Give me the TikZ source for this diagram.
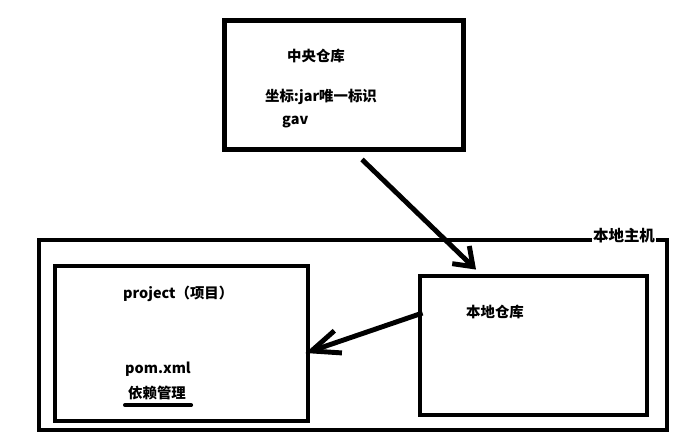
\documentclass[tikz,border=0pt]{standalone}
\usepackage{fontspec}
\setmainfont{Noto Sans CJK SC}
\usetikzlibrary{arrows.meta,calc}

\tikzset{
  box/.style={draw, line width=4.2pt, inner sep=0pt},
  txt/.style={font=\bfseries\fontsize{12.3}{14}\selectfont, inner sep=0pt},
  link/.style={line width=4.2pt}
}

\begin{document}
\begin{tikzpicture}[x=0.03cm,y=-0.03cm]

        \useasboundingbox (0,0) rectangle (677,434);
        \fill[white] (0,0) rectangle (677,434);

        \node[box, minimum width=7.19cm, minimum height=3.87cm] (central) at (344,85) {};
        \node[txt] (centralname) at (316,56) {中央仓库};
        \node[txt] (coord) at (321,97) {坐标:jar唯一标识};
        \node[txt, anchor=base west] (gav) at (282,124) {gav};

        \node[box, line width=3.4pt, minimum width=18.84cm, minimum height=5.7cm] (host) at (353,335) {};
        \node[txt, fill=white, inner sep=1pt, font=\bfseries\fontsize{13.2}{15}\selectfont] (hostname) at (624,236) {本地主机};

        \node[box, minimum width=7.59cm, minimum height=4.65cm] (project) at (181.5,343.5) {};
        \node[txt, anchor=west] (projname) at (123,294) {project（项目）};
        \node[txt, anchor=west] (pom) at (125,369) {pom.xml};
        \node[txt, anchor=west] (dep) at (128,393) {依赖管理};
        \draw[line width=3.4pt, line cap=round] ($(dep.south west)+(-3,5)$) -- ($(dep.south east)+(5,5)$);

        \node[box, minimum width=6.81cm, minimum height=4.17cm] (local) at (533.5,345.5) {};
        \node[txt] (localname) at (495,312) {本地仓库};

        \draw[link, -{Straight Barb[length=14.5pt,width=21pt]}] ($(central.south)+(18,7.5)$) -- ($(local.north)+(-57.5,-4)$);
        \draw[link, -{Straight Barb[length=24pt,width=20pt]}] ($(local.west)+(5,-32.5)$) -- ($(project.east)+(-5,9.5)$);
    \end{tikzpicture}
\end{document}
